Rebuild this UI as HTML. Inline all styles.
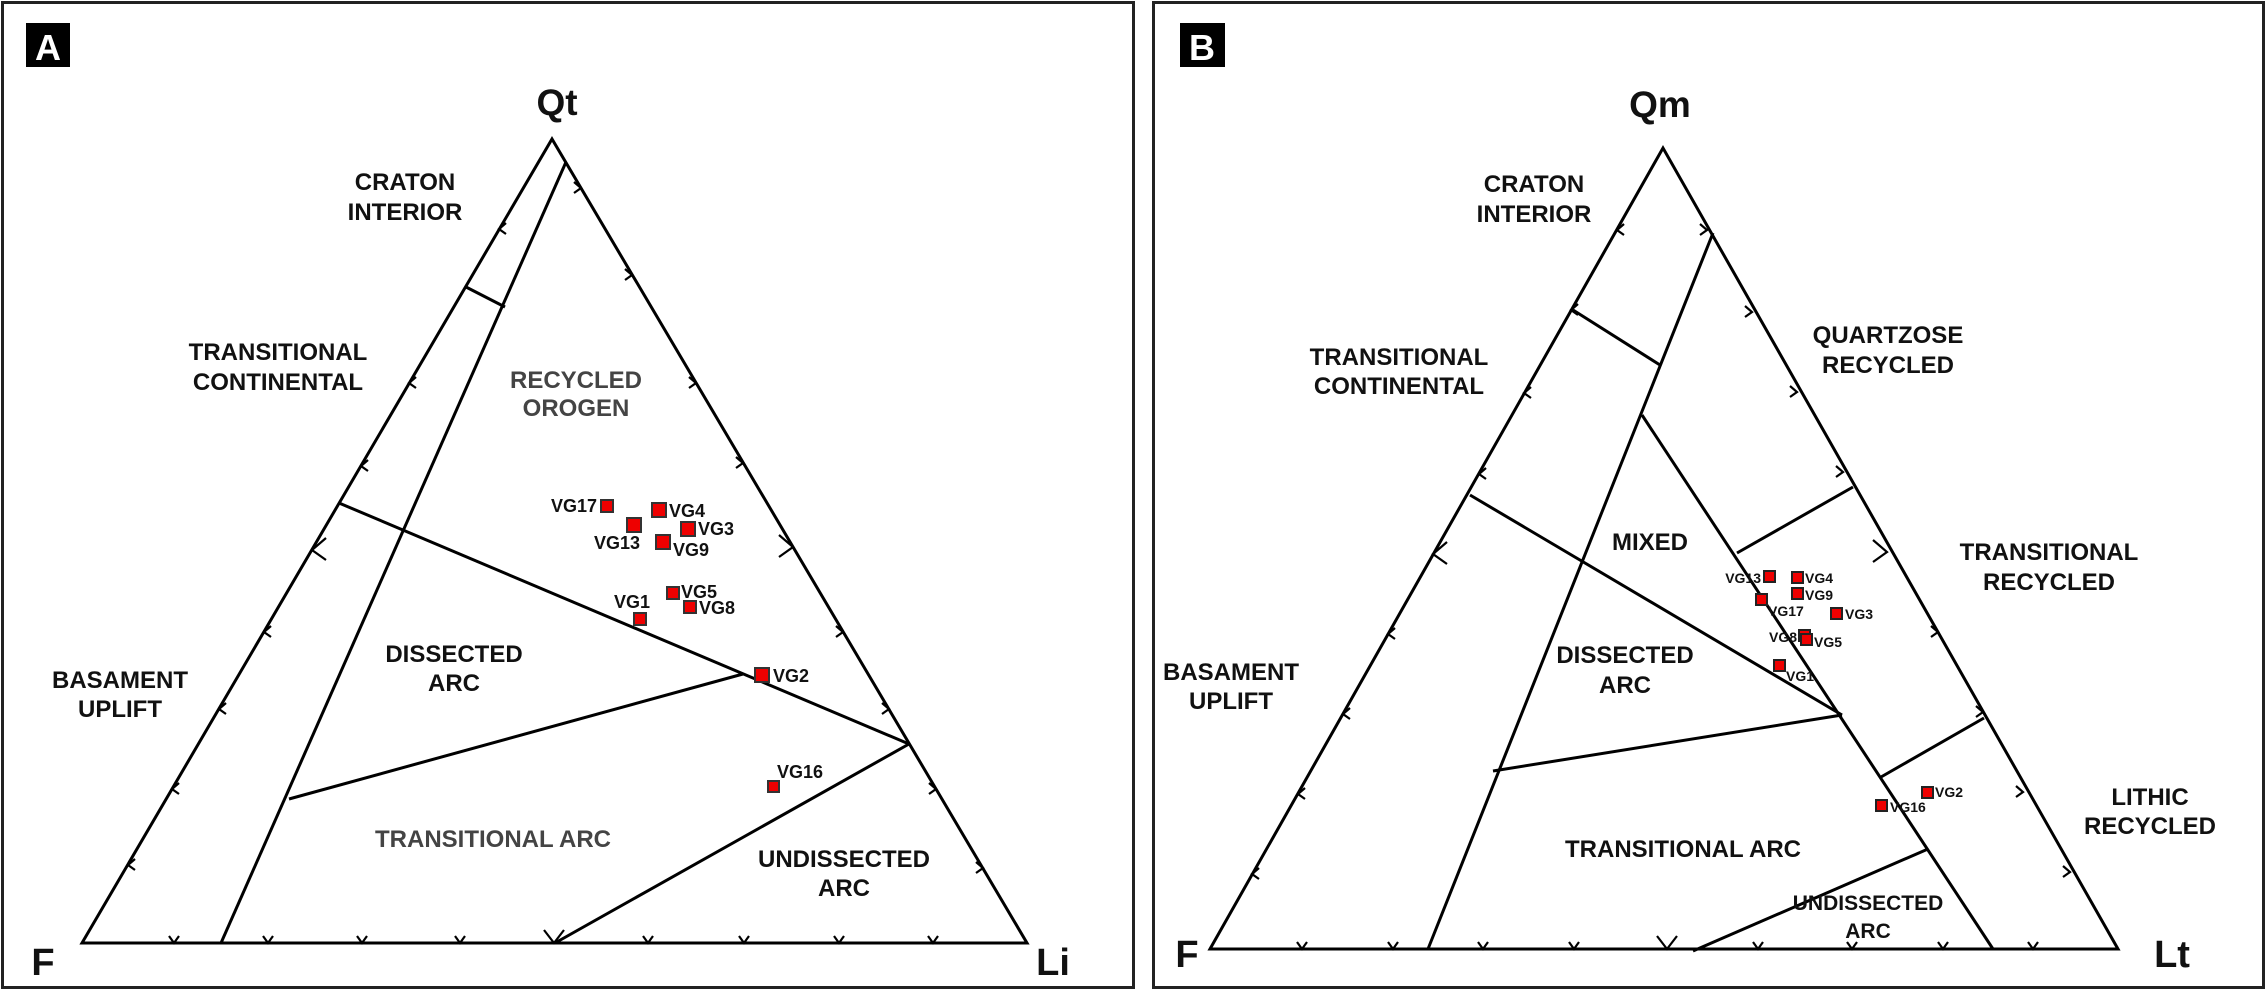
<!DOCTYPE html>
<html><head><meta charset="utf-8"><style>
html,body{margin:0;padding:0;background:#fff;}
svg{display:block;}
text{font-family:"Liberation Sans",Arial,sans-serif;font-weight:bold;}
</style></head><body>
<svg width="2266" height="992" viewBox="0 0 2266 992" xmlns="http://www.w3.org/2000/svg">
<rect x="0" y="0" width="2266" height="992" fill="#fff"/>
<rect x="2.5" y="2.5" width="1131" height="985" fill="none" stroke="#222" stroke-width="3"/>
<rect x="1153.5" y="2.5" width="1110" height="985" fill="none" stroke="#222" stroke-width="3"/>
<rect x="26" y="23" width="44" height="44" fill="#000"/>
<text x="48" y="60" font-size="36" fill="#fff" text-anchor="middle">A</text>
<rect x="1180" y="23" width="45" height="44" fill="#000"/>
<text x="1202" y="60" font-size="36" fill="#fff" text-anchor="middle">B</text>

<g fill="none" stroke="#000" stroke-width="3" stroke-linejoin="miter">
<path d="M82 943 L552 139 L1027 943 Z"/>
<path d="M566 162 L221 943"/>
<path d="M466 287 L505 307"/>
<path d="M339 503 L909 744"/>
<path d="M289 799 L743 674"/>
<path d="M909 744 L555 943"/>
<path d="M1210 949 L1663 148 L2118 949 Z"/>
<path d="M1713 233 L1428 949"/>
<path d="M1573 310 L1660 365"/>
<path d="M1642 415 L1993 949"/>
<path d="M1737 553 L1853 487"/>
<path d="M1470 495 L1842 715"/>
<path d="M1493 771 L1842 715"/>
<path d="M1881 777 L1984 718"/>
<path d="M1693 951 L1928 849"/>
</g>

<g fill="none" stroke="#000" stroke-width="2.2">
<path d="M506 223 L499 229 L506 234"/>
<path d="M416 377 L409 383 L416 388"/>
<path d="M368 460 L361 466 L368 471"/>
<path d="M326 538 L312 550 L326 560"/>
<path d="M271 626 L264 632 L271 637"/>
<path d="M226 703 L219 709 L226 714"/>
<path d="M179 783 L172 789 L179 794"/>
<path d="M135 859 L128 865 L135 870"/>
<path d="M574 182 L581 188 L574 193"/>
<path d="M625 269 L632 275 L625 280"/>
<path d="M689 377 L696 383 L689 388"/>
<path d="M736 457 L743 463 L736 468"/>
<path d="M779 535 L793 547 L779 557"/>
<path d="M836 626 L843 632 L836 637"/>
<path d="M882 703 L889 709 L882 714"/>
<path d="M929 783 L936 789 L929 794"/>
<path d="M976 862 L983 868 L976 873"/>
<path d="M169 936 L174 943 L179 936"/>
<path d="M263 936 L268 943 L273 936"/>
<path d="M357 936 L362 943 L367 936"/>
<path d="M455 936 L460 943 L465 936"/>
<path d="M544 930 L554 943 L564 930"/>
<path d="M643 936 L648 943 L653 936"/>
<path d="M739 936 L744 943 L749 936"/>
<path d="M834 936 L839 943 L844 936"/>
<path d="M928 936 L933 943 L938 936"/>
<path d="M1624 224 L1617 230 L1624 235"/>
<path d="M1578 304 L1571 310 L1578 315"/>
<path d="M1531 387 L1524 393 L1531 398"/>
<path d="M1486 468 L1479 474 L1486 479"/>
<path d="M1447 542 L1433 554 L1447 564"/>
<path d="M1395 628 L1388 634 L1395 639"/>
<path d="M1350 708 L1343 714 L1350 719"/>
<path d="M1305 788 L1298 794 L1305 799"/>
<path d="M1259 868 L1252 874 L1259 879"/>
<path d="M1700 224 L1707 230 L1700 235"/>
<path d="M1745 306 L1752 312 L1745 317"/>
<path d="M1790 386 L1797 392 L1790 397"/>
<path d="M1836 466 L1843 472 L1836 477"/>
<path d="M1873 540 L1887 552 L1873 562"/>
<path d="M1931 626 L1938 632 L1931 637"/>
<path d="M1976 706 L1983 712 L1976 717"/>
<path d="M2016 786 L2023 792 L2016 797"/>
<path d="M2063 866 L2070 872 L2063 877"/>
<path d="M1297 942 L1302 949 L1307 942"/>
<path d="M1388 942 L1393 949 L1398 942"/>
<path d="M1478 942 L1483 949 L1488 942"/>
<path d="M1569 942 L1574 949 L1579 942"/>
<path d="M1657 936 L1667 949 L1677 936"/>
<path d="M1753 942 L1758 949 L1763 942"/>
<path d="M1847 942 L1852 949 L1857 942"/>
<path d="M1938 942 L1943 949 L1948 942"/>
<path d="M2028 942 L2033 949 L2038 942"/>
</g>

<g font-size="24" text-anchor="middle" fill="#111">
<text x="557" y="115" font-size="37">Qt</text>
<text x="405" y="190">CRATON</text>
<text x="405" y="220">INTERIOR</text>
<text x="278" y="360">TRANSITIONAL</text>
<text x="278" y="390">CONTINENTAL</text>
<text x="576" y="388" fill="#444">RECYCLED</text>
<text x="576" y="416" fill="#444">OROGEN</text>
<text x="454" y="662">DISSECTED</text>
<text x="454" y="691">ARC</text>
<text x="120" y="688">BASAMENT</text>
<text x="120" y="717">UPLIFT</text>
<text x="493" y="847" fill="#444">TRANSITIONAL ARC</text>
<text x="844" y="867">UNDISSECTED</text>
<text x="844" y="896">ARC</text>
<text x="43" y="975" font-size="38">F</text>
<text x="1053" y="975" font-size="38">Li</text>
</g>
<g font-size="24" text-anchor="middle" fill="#111">
<text x="1660" y="117" font-size="37">Qm</text>
<text x="1534" y="192">CRATON</text>
<text x="1534" y="222">INTERIOR</text>
<text x="1399" y="365">TRANSITIONAL</text>
<text x="1399" y="394">CONTINENTAL</text>
<text x="1888" y="343">QUARTZOSE</text>
<text x="1888" y="373">RECYCLED</text>
<text x="1650" y="550">MIXED</text>
<text x="2049" y="560">TRANSITIONAL</text>
<text x="2049" y="590">RECYCLED</text>
<text x="1625" y="663">DISSECTED</text>
<text x="1625" y="693">ARC</text>
<text x="1231" y="680">BASAMENT</text>
<text x="1231" y="709">UPLIFT</text>
<text x="2150" y="805">LITHIC</text>
<text x="2150" y="834">RECYCLED</text>
<text x="1683" y="857">TRANSITIONAL ARC</text>
<text x="1868" y="910" font-size="21">UNDISSECTED</text>
<text x="1868" y="938" font-size="21">ARC</text>
<text x="1187" y="967" font-size="38">F</text>
<text x="2172" y="967" font-size="38">Lt</text>
</g>

<g fill="#e00" stroke="#333" stroke-width="2">
<rect x="601" y="500" width="12" height="12"/>
<rect x="652" y="503" width="14" height="14"/>
<rect x="627" y="518" width="14" height="14"/>
<rect x="681" y="522" width="14" height="14"/>
<rect x="656" y="535" width="14" height="14"/>
<rect x="667" y="587" width="12" height="12"/>
<rect x="684" y="601" width="12" height="12"/>
<rect x="634" y="613" width="12" height="12"/>
<rect x="755" y="668" width="14" height="14"/>
<rect x="768" y="781" width="11" height="11"/>
</g>
<g font-size="18" fill="#111">
<text x="597" y="512" text-anchor="end">VG17</text>
<text x="669" y="517">VG4</text>
<text x="617" y="549" text-anchor="middle">VG13</text>
<text x="698" y="535">VG3</text>
<text x="673" y="556">VG9</text>
<text x="681" y="598">VG5</text>
<text x="699" y="614">VG8</text>
<text x="632" y="608" text-anchor="middle">VG1</text>
<text x="773" y="682">VG2</text>
<text x="777" y="778">VG16</text>
</g>

<g fill="#e00" stroke="#222" stroke-width="2">
<rect x="1764" y="571" width="11" height="11"/>
<rect x="1792" y="572" width="11" height="11"/>
<rect x="1792" y="588" width="11" height="11"/>
<rect x="1756" y="594" width="11" height="11"/>
<rect x="1831" y="608" width="11" height="11"/>
<rect x="1799" y="630" width="11" height="11"/>
<rect x="1801" y="634" width="11" height="11"/>
<rect x="1774" y="660" width="11" height="11"/>
<rect x="1922" y="787" width="11" height="11"/>
<rect x="1876" y="800" width="11" height="11"/>
</g>
<g font-size="14" fill="#111">
<text x="1761" y="583" text-anchor="end">VG13</text>
<text x="1805" y="583">VG4</text>
<text x="1805" y="600">VG9</text>
<text x="1768" y="616">VG17</text>
<text x="1845" y="619">VG3</text>
<text x="1797" y="642" text-anchor="end">VG8</text>
<text x="1814" y="647">VG5</text>
<text x="1786" y="681">VG1</text>
<text x="1935" y="797">VG2</text>
<text x="1890" y="812">VG16</text>
</g>
</svg>
</body></html>
